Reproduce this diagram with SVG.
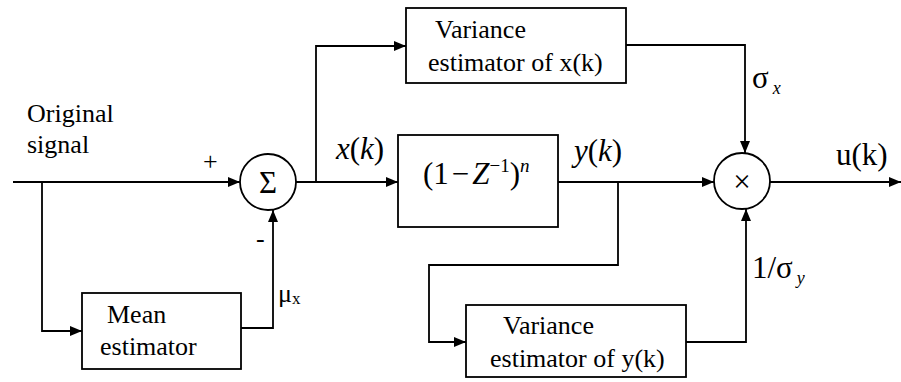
<svg xmlns="http://www.w3.org/2000/svg" width="901" height="382" viewBox="0 0 901 382">
<defs>
<marker id="ah" viewBox="0 0 12 10" refX="12" refY="5" markerWidth="12" markerHeight="10" markerUnits="userSpaceOnUse" orient="auto">
<path d="M0,0 L12,5 L0,10 Z" fill="#000"/>
</marker>
<style>
.ln{fill:none;stroke:#000;stroke-width:1.8}
.bx{fill:#fff;stroke:#000;stroke-width:1.8}
.t{font-family:'Liberation Serif','Times New Roman',serif;font-size:26px;fill:#000}
.m{font-family:'Liberation Serif','Times New Roman',serif;font-size:31px;fill:#000}
.i{font-style:italic}
</style>
</defs>
<rect width="901" height="382" fill="#fff"/>
<g id="connectors">
<path class="ln" d="M13,182 H240" marker-end="url(#ah)"/>
<path class="ln" d="M42,182 V331 H82" marker-end="url(#ah)"/>
<path class="ln" d="M238,328 H273 V210" marker-end="url(#ah)"/>
<path class="ln" d="M296,182 H398" marker-end="url(#ah)"/>
<path class="ln" d="M316,182 V46 H406" marker-end="url(#ah)"/>
<path class="ln" d="M558,182 H714" marker-end="url(#ah)"/>
<path class="ln" d="M626,45 H745 V153" marker-end="url(#ah)"/>
<path class="ln" d="M618,182 V265 H429 V342 H466" marker-end="url(#ah)"/>
<path class="ln" d="M686,342 H746 V209" marker-end="url(#ah)"/>
<path class="ln" d="M770,182 H901" marker-end="url(#ah)"/>
</g>
<g id="input-label">
<text class="t" x="27" y="122">Original</text>
<text class="t" x="27" y="153">signal</text>
</g>
<g id="sum">
<circle class="bx" cx="268" cy="182" r="28"/>
<text class="m" x="268" y="193" text-anchor="middle" font-size="28">Σ</text>
<text class="t" x="203" y="170" font-size="22">+</text>
<text class="t" x="256" y="247">-</text>
</g>
<g id="mean-estimator">
<rect class="bx" x="82" y="293" width="159" height="76"/>
<text class="t" x="107" y="323">Mean</text>
<text class="t" x="100" y="355">estimator</text>
<text class="t" x="278" y="302">μ<tspan font-size="17" dy="2">x</tspan></text>
</g>
<g id="variance-x">
<rect class="bx" x="406" y="8" width="220" height="75"/>
<text class="t" x="435" y="38">Variance</text>
<text class="t" x="428" y="71">estimator of x(k)</text>
</g>
<g id="filter">
<rect class="bx" x="398" y="135" width="160" height="92"/>
<text class="m" x="423" y="184">(1<tspan dx="3">−</tspan><tspan class="i" dx="3">Z</tspan><tspan font-size="19" dy="-12">−1</tspan><tspan dy="12">)</tspan><tspan class="i" font-size="19" dy="-12">n</tspan></text>
<text class="m" x="336" y="159"><tspan class="i">x</tspan>(<tspan class="i">k</tspan>)</text>
<text class="m" x="574" y="161"><tspan class="i">y</tspan>(<tspan class="i">k</tspan>)</text>
</g>
<g id="variance-y">
<rect class="bx" x="466" y="305" width="220" height="72"/>
<text class="t" x="503" y="334">Variance</text>
<text class="t" x="490" y="367">estimator of y(k)</text>
</g>
<g id="multiplier">
<circle class="bx" cx="742" cy="181" r="28"/>
<text class="m" x="742" y="192" text-anchor="middle" font-size="30">×</text>
<text class="m" x="752" y="88" font-size="34">σ<tspan class="i" font-size="18" dx="4" dy="6">x</tspan></text>
<text class="m" x="752" y="278" font-size="32">1/σ<tspan class="i" font-size="18" dx="4" dy="6">y</tspan></text>
<text class="m" x="836" y="165" font-size="33">u(k)</text>
</g>
</svg>
